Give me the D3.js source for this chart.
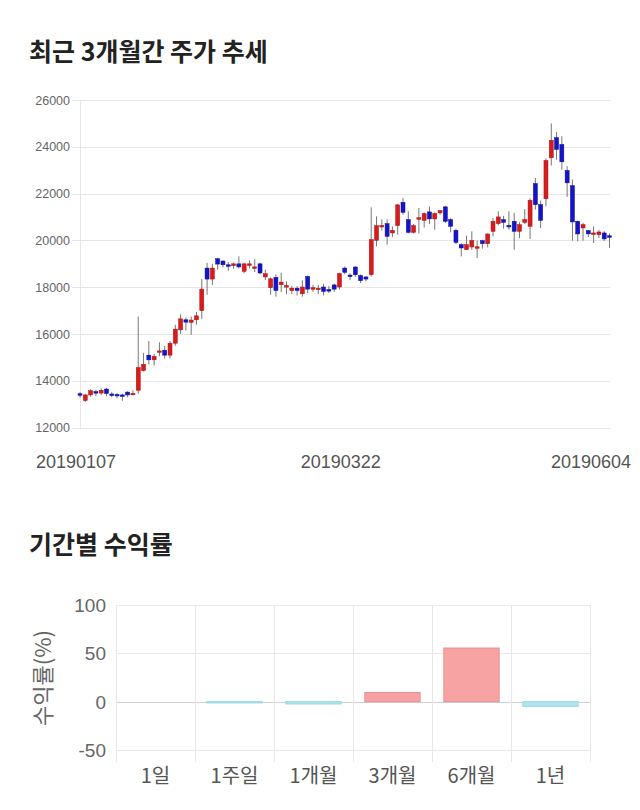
<!DOCTYPE html>
<html>
<head>
<meta charset="utf-8">
<script src="https://cdn.jsdelivr.net/npm/d3@7"></script>
<style>
  body { margin: 0; background: #fff; }
  text { font-family: "Liberation Sans", Arial, sans-serif; }
  .kr { font-family: "Noto Sans CJK KR", "Noto Sans", sans-serif; }
</style>
</head>
<body>
<script>
// 거래일 (2019)
var fechas = [
  "20190107","20190108","20190109","20190110","20190111","20190114","20190115","20190116","20190117","20190118",
  "20190121","20190122","20190123","20190124","20190125","20190128","20190129","20190130","20190131",
  "20190201","20190207","20190208","20190211","20190212","20190213","20190214","20190215","20190218","20190219",
  "20190220","20190221","20190222","20190225","20190226","20190227","20190228",
  "20190304","20190305","20190306","20190307","20190308","20190311","20190312","20190313","20190314","20190315",
  "20190318","20190319","20190320","20190321","20190322","20190325","20190326","20190327","20190328","20190329",
  "20190401","20190402","20190403","20190404","20190405","20190408","20190409","20190410","20190411","20190412",
  "20190415","20190416","20190417","20190418","20190419","20190422","20190423","20190424","20190425","20190426",
  "20190429","20190430",
  "20190502","20190503","20190507","20190508","20190509","20190510","20190513","20190514","20190515","20190516",
  "20190517","20190520","20190521","20190522","20190523","20190524","20190527","20190528","20190529","20190530",
  "20190531","20190603","20190604"
];

// 시가 / 고가 / 저가 / 종가
var abre = [13450,13160,13400,13540,13480,13650,13440,13420,13400,13520,13450,13600,14440,15100,14900,15240,15310,15100,15610,16180,
  16610,16500,16610,17000,18820,18350,19220,19120,18960,18920,19000,18680,18950,18830,19000,18440,17980,18420,18110,18060,
  17860,17960,17720,18460,17960,17900,18010,17900,18100,18010,18820,18520,18865,18500,18440,18535,20004,20620,20718,20320,
  20633,21630,20890,20346,20950,20860,21220,20920,21176,21434,20890,20432,19820,19605,19721,19720,19990,19860,20389,20718,
  20890,20640,20817,20389,20774,20603,22430,21530,21780,23530,24390,24100,22990,22340,20817,20534,20420,20300,20248,20320,20200];
var alto = [13520,13450,13640,13620,13680,13700,13520,13480,13450,13560,13600,16750,15200,15700,15150,15650,15500,15700,16400,16850,
  16700,16750,16950,18350,19040,19000,19250,19150,19080,19050,19320,19050,19150,19200,19050,18750,18420,18550,18620,18250,
  18050,18050,18300,18500,18100,18100,18150,18050,18150,18620,18880,18600,18900,18550,18480,21416,21030,20900,20900,20600,
  21560,21815,21245,20700,21390,21200,21450,21200,21300,21480,20950,20500,19880,20200,20390,20000,20030,20300,20960,21245,
  21050,21245,21180,20780,21340,21800,22670,21700,23500,25000,24630,24450,23170,22600,20850,20750,20450,20600,20450,20400,20300];
var bajo = [13280,13100,13330,13350,13400,13350,13300,13250,13150,13300,13380,13450,14400,14700,14650,15050,14950,14950,15500,16000,
  16150,15970,16400,16650,17680,18100,18750,18850,18700,18800,18800,18600,18800,18650,18550,18300,17680,17600,17800,17700,
  17700,17650,17600,17750,17800,17700,17650,17750,17800,17900,18550,18300,18450,18180,18250,18460,19747,20420,19820,20150,
  20248,21100,20300,20300,20300,20550,20700,20460,21100,20750,20350,19850,19320,19600,19600,19250,19650,19700,20175,20650,
  20500,20460,19605,20100,20700,20064,21320,20530,21460,23200,23460,23030,21860,19990,19960,19990,20150,19890,20100,19980,19680];
var cierre = [13400,13400,13580,13480,13600,13460,13420,13400,13380,13400,13470,14570,14710,14900,15050,15280,15100,15610,16210,16650,
  16510,16600,16780,17920,18350,18820,18990,18960,18950,19000,18870,19000,19000,18870,18610,18580,18360,17860,18220,18070,
  17960,17860,18010,17920,17980,17960,17820,17880,17920,18580,18640,18500,18535,18280,18350,20034,20633,20640,20175,20432,
  21520,21202,20346,20633,20970,21147,20920,21150,21275,20817,20603,19918,19678,19820,20004,19730,19860,20277,20817,21005,
  20774,20633,20389,20675,20890,21716,21530,20860,23415,24280,23890,23360,22460,20790,20277,20676,20280,20320,20360,20064,20150];

var ticksPrecio = [12000,14000,16000,18000,20000,22000,24000,26000];
var etiquetasFecha = ["20190107","20190322","20190604"];

// 기간별 수익률
var periodos = ["1일","1주일","1개월","3개월","6개월","1년"];
var rendimientos = [0, -1.3, -2.4, 9.5, 55.5, -4.8];
var ticksRend = [-50, 0, 50, 100];

var ancho = 640, altoSvg = 810;
var svg = d3.select("body").append("svg")
  .attr("width", ancho)
  .attr("height", altoSvg);

// 제목
svg.append("text").attr("class","kr")
  .attr("x", 29).attr("y", 61)
  .attr("font-size", 25).attr("font-weight", "bold").attr("fill", "#222")
  .text("최근 3개월간 주가 추세");

svg.append("text").attr("class","kr")
  .attr("x", 29).attr("y", 554)
  .attr("font-size", 25).attr("font-weight", "bold").attr("fill", "#222")
  .text("기간별 수익률");

// ---- 주가 차트 ----
var escalaX = d3.scalePoint().domain(fechas).range([80, 609.5]);
var escalaY = d3.scaleLinear().domain([12000, 26000]).range([427.7, 100]);

var gPrecio = svg.append("g");

// 가로 격자 + 눈금
gPrecio.selectAll("line.grid")
  .data(ticksPrecio)
  .enter().append("line")
  .attr("x1", 72).attr("x2", 610)
  .attr("y1", function(d){ return Math.round(escalaY(d)) + 0.5; })
  .attr("y2", function(d){ return Math.round(escalaY(d)) + 0.5; })
  .attr("stroke", "#e6e6e6").attr("stroke-width", 1);

gPrecio.append("line")
  .attr("x1", 80.5).attr("x2", 80.5)
  .attr("y1", escalaY(26000)).attr("y2", escalaY(12000))
  .attr("stroke", "#e6e6e6");

gPrecio.selectAll("text.tick")
  .data(ticksPrecio)
  .enter().append("text")
  .attr("x", 70)
  .attr("y", function(d){ return escalaY(d) + 4.5; })
  .attr("text-anchor", "end")
  .attr("font-size", 12.5).attr("fill", "#666")
  .text(function(d){ return d; });

// 날짜 라벨
gPrecio.selectAll("text.fecha")
  .data(etiquetasFecha)
  .enter().append("text")
  .attr("x", function(d, i){
    var x = escalaX(d);
    return i == etiquetasFecha.length - 1 ? 631 : x - 4;
  })
  .attr("y", 468)
  .attr("text-anchor", function(d, i){ return i == etiquetasFecha.length - 1 ? "end" : "middle"; })
  .attr("font-size", 18).attr("fill", "#555")
  .text(function(d){ return d; });

// 캔들
var velas = fechas.map(function(f, i){
  return { fecha: f, o: abre[i], h: alto[i], l: bajo[i], c: cierre[i] };
});

var gVelas = gPrecio.selectAll("g.vela")
  .data(velas)
  .enter().append("g");

gVelas.append("line")
  .attr("x1", function(d){ return escalaX(d.fecha); })
  .attr("x2", function(d){ return escalaX(d.fecha); })
  .attr("y1", function(d){ return escalaY(d.h); })
  .attr("y2", function(d){ return escalaY(d.l); })
  .attr("stroke", "#777").attr("stroke-width", 1);

gVelas.append("rect")
  .attr("x", function(d){ return escalaX(d.fecha) - 2; })
  .attr("width", 4)
  .attr("y", function(d){ return escalaY(Math.max(d.o, d.c)); })
  .attr("height", function(d){ return Math.max(1.5, Math.abs(escalaY(d.o) - escalaY(d.c))); })
  .attr("fill", function(d){ return d.c >= d.o ? "#d61c1c" : "#1414c8"; })
  .attr("stroke", function(d){ return d.c >= d.o ? "#b01010" : "#0a0a9a"; })
  .attr("stroke-width", 0.5);

// ---- 수익률 차트 ----
var escalaBX = d3.scaleBand().domain(periodos).range([116, 590]).paddingInner(0.3).paddingOuter(0.15);
var escalaBY = d3.scaleLinear().domain([-50, 100]).range([750, 605]);
var bordes = d3.range(periodos.length + 1).map(function(i){ return 116 + i * (590 - 116) / periodos.length; });

var gRend = svg.append("g");

gRend.selectAll("line.h")
  .data(ticksRend)
  .enter().append("line")
  .attr("x1", 116).attr("x2", 590)
  .attr("y1", function(d){ return Math.round(escalaBY(d)) + 0.5; })
  .attr("y2", function(d){ return Math.round(escalaBY(d)) + 0.5; })
  .attr("stroke", function(d){ return d == 0 ? "#cfcfcf" : "#e8e8e8"; });

gRend.selectAll("line.v")
  .data(bordes)
  .enter().append("line")
  .attr("x1", function(d){ return Math.round(d) + 0.5; })
  .attr("x2", function(d){ return Math.round(d) + 0.5; })
  .attr("y1", escalaBY(100)).attr("y2", escalaBY(-50) + 12)
  .attr("stroke", "#e8e8e8");

gRend.selectAll("text.yt")
  .data(ticksRend)
  .enter().append("text")
  .attr("x", 106)
  .attr("y", function(d){ return escalaBY(d) + 7; })
  .attr("text-anchor", "end")
  .attr("font-size", 19).attr("fill", "#666")
  .text(function(d){ return d; });

gRend.append("text").attr("class","kr")
  .attr("transform", "translate(51,678) rotate(-90)")
  .attr("text-anchor", "middle")
  .attr("font-size", 22).attr("fill", "#666")
  .text("수익률(%)");

gRend.selectAll("rect")
  .data(rendimientos)
  .enter().append("rect")
  .attr("x", function(d, i){ return escalaBX(periodos[i]); })
  .attr("width", escalaBX.bandwidth())
  .attr("y", function(d){ return escalaBY(Math.max(0, d)); })
  .attr("height", function(d){ return Math.abs(escalaBY(d) - escalaBY(0)); })
  .attr("fill", function(d){ return d >= 0 ? "#f8a3a3" : "#aee7ef"; })
  .attr("stroke", function(d){ return d >= 0 ? "#e79090" : "#96d8e2"; })
  .attr("stroke-width", 1);

gRend.selectAll("text.xt")
  .data(periodos)
  .enter().append("text").attr("class","kr")
  .attr("x", function(d){ return escalaBX(d) + escalaBX.bandwidth() / 2; })
  .attr("y", 783)
  .attr("text-anchor", "middle")
  .attr("font-size", 20).attr("fill", "#555")
  .text(function(d){ return d; });
</script>
</body>
</html>
